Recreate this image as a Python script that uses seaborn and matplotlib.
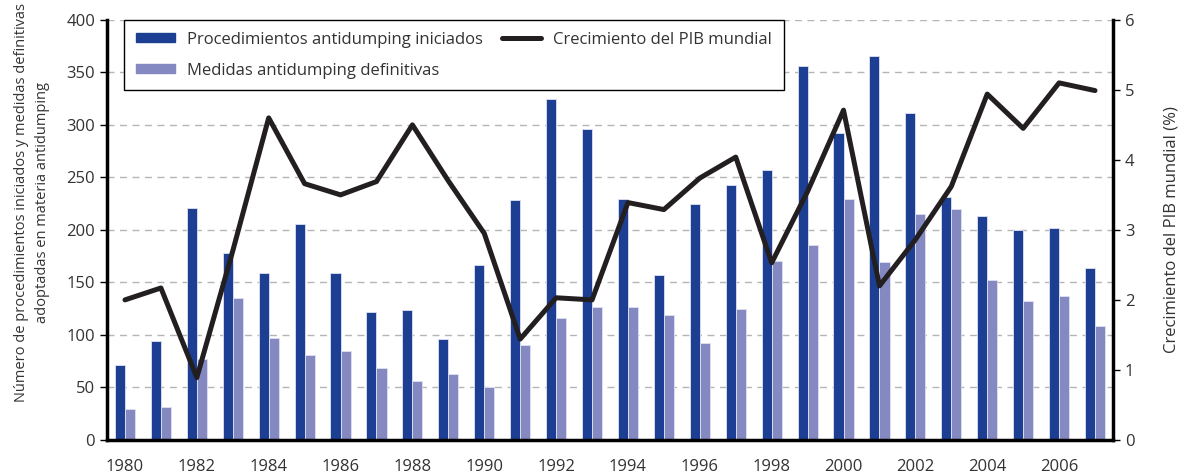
import numpy as np
import pandas as pd
import seaborn as sns
import matplotlib.pyplot as plt
from matplotlib.patches import Patch
from matplotlib.lines import Line2D

# data
years = [str(y) for y in range(1980, 2008)]
iniciados = [71, 94, 221, 178, 159, 206, 159, 122, 124, 96, 167, 228, 325, 296,
             229, 157, 225, 243, 257, 356, 292, 366, 311, 231, 213, 200, 202, 164]
definitivas = [29, 31, 77, 135, 97, 81, 85, 68, 56, 63, 50, 90, 116, 127,
               127, 119, 92, 125, 170, 186, 229, 169, 215, 220, 152, 132, 137, 108]
pib = [2.0, 2.17, 0.89, 2.7, 4.6, 3.66, 3.5, 3.69, 4.5, 3.7, 2.95, 1.44, 2.03, 2.0,
       3.39, 3.29, 3.74, 4.04, 2.53, 3.55, 4.71, 2.2, 2.86, 3.62, 4.94, 4.45, 5.1, 4.99]

lbl_ini = "Procedimientos antidumping iniciados"
lbl_def = "Medidas antidumping definitivas"
lbl_pib = "Crecimiento del PIB mundial"

dark = "#1c3f94"
light = "#8489c1"
txt = "#333333"

sns.set_theme(style="white")
plt.rcParams['font.family'] = ['Open Sans', 'DejaVu Sans']

df = pd.DataFrame({"year": years * 2,
                   "valor": iniciados + definitivas,
                   "serie": [lbl_ini] * len(years) + [lbl_def] * len(years)})

fig = plt.figure(figsize=(11.8, 4.73), dpi=100)
ax = fig.add_axes([0.0907, 0.070, 0.8525, 0.888])

sns.barplot(data=df, x="year", y="valor", hue="serie", order=years,
            palette=[dark, light], width=0.56, saturation=1, ax=ax, legend=False,
            edgecolor="#dfe2f0", linewidth=0.6)

ax.set_ylim(0, 400)
ax.set_xlim(-0.5, len(years) - 0.5)
ax.set_yticks(np.arange(0, 401, 50))
ax.yaxis.grid(True, linestyle=(0, (5, 4)), color="#b5b5b5", linewidth=1)
ax.set_axisbelow(True)
ax.set_xlabel("")
ax.set_ylabel("Número de procedimientos iniciados y medidas definitivas\nadoptadas en materia antidumping",
              fontsize=10.5, color=txt, linespacing=1.55)
ax.yaxis.set_label_coords(-0.057, 0.564)

# x ticks: labels every other year, tick marks at category boundaries
ax.set_xticks(np.arange(0, len(years), 2))
ax.set_xticklabels(years[::2])
ax.set_xticks(np.arange(-0.5, len(years), 1), minor=True)
ax.tick_params(axis="x", which="major", length=0, labelsize=12, colors=txt, pad=14)
ax.tick_params(axis="x", which="minor", length=5, width=1, color="black", direction="out")
ax.tick_params(axis="y", length=5, width=1, color="black", labelsize=12, labelcolor=txt,
               direction="out", left=True)

for s in ["left", "bottom"]:
    ax.spines[s].set_linewidth(2.5)
    ax.spines[s].set_color("black")
ax.spines["top"].set_visible(False)
ax.spines["right"].set_visible(False)

ax2 = ax.twinx()
sns.lineplot(x=np.arange(len(years)), y=pib, color="#231f20", linewidth=3.6, ax=ax2)
ax2.set_ylim(0, 6)
ax2.set_yticks(range(0, 7))
ax2.set_ylabel("Crecimiento del PIB mundial (%)", fontsize=12, color=txt, labelpad=21)
ax2.tick_params(axis="y", length=5, width=1, color="black", labelsize=12, labelcolor=txt,
                direction="out", right=True)
ax2.spines["right"].set_linewidth(2.5)
ax2.spines["right"].set_color("black")
for s in ["top", "left", "bottom"]:
    ax2.spines[s].set_visible(False)
ax2.grid(False)

handles = [Patch(color=dark, label=lbl_ini),
           Patch(color=light, label=lbl_def),
           Line2D([0], [0], color="#231f20", linewidth=3.6, label=lbl_pib)]
leg = ax2.legend(handles=handles, ncol=2, loc="upper left", bbox_to_anchor=(0.017, 1.0),
                 borderaxespad=0, fancybox=False, frameon=True, fontsize=12,
                 handlelength=2.35, handleheight=0.5, handletextpad=0.75,
                 columnspacing=1.1, labelspacing=0.9, borderpad=0.7)
leg.get_frame().set_edgecolor("black")
leg.get_frame().set_linewidth(1)
leg.get_frame().set_alpha(1)
for t in leg.get_texts():
    t.set_color(txt)

fig.savefig("out.png", dpi=100)
